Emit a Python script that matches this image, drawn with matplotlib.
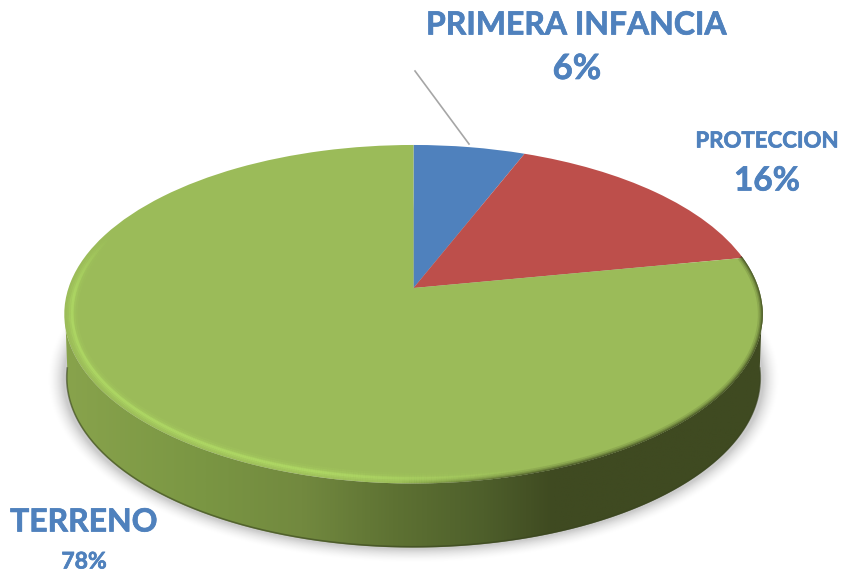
import numpy as np
import matplotlib
matplotlib.use("Agg")
import matplotlib.pyplot as plt
import matplotlib.patheffects as pe
from matplotlib.colors import LinearSegmentedColormap, to_rgb
from matplotlib.collections import LineCollection
from matplotlib.patches import Polygon
from matplotlib.transforms import Transform

labels = ["PRIMERA INFANCIA", "PROTECCION", "TERRENO"]
values = [6, 16, 78]
colors = ["#4F81BD", "#BD4F4B", "#9BBB59"]

CX, CY, A, B, K = 413.5, 288.0, 345.0, 165.2, 0.155
DEPTH = 64.0
TXT = "#4F81BD"


class Persp(Transform):
    input_dims = output_dims = 2
    is_affine = False
    has_inverse = False

    def transform_non_affine(self, xy):
        xy = np.asarray(xy, float)
        w = 1 + K * xy[:, 1]
        return np.column_stack([CX + A * xy[:, 0] / w, CY - B * xy[:, 1] / w])


def rim(t, r=1.0):
    return Persp().transform_non_affine(np.column_stack([r * np.cos(t), r * np.sin(t)]))


def lower(p):
    return np.column_stack([CX + (p[:, 0] - CX) * 0.993, p[:, 1] + DEPTH])


plt.rcParams["font.family"] = ["Lato", "DejaVu Sans"]
fig = plt.figure(figsize=(8.44, 5.73), dpi=100)
ax = fig.add_axes([0, 0, 1, 1])

t = np.linspace(0, 2 * np.pi, 721)
top = rim(t)
lowt = np.linspace(np.pi + 0.1, 2 * np.pi - 0.1, 400)
front = rim(lowt)

# soft shadow under the disc
for grow, alpha in zip(np.linspace(16, 1, 16), np.linspace(0.004, 0.022, 16)):
    mx, my = CX, CY + 29
    s = np.column_stack([mx + (top[:, 0] - mx) * (1 + grow / 350),
                         my + (top[:, 1] - my) * (1 + grow / 195) + DEPTH + 1])
    ax.add_patch(Polygon(s, closed=True, fc="black", ec="none", alpha=alpha, zorder=1))

# side wall with horizontal gradient
wall = np.vstack([front, lower(front)[::-1]])
poly = Polygon(wall, closed=True, fc="none", ec="none", transform=ax.transData)
ax.add_patch(poly)
stops = [(0.00, "#88A34C"), (0.20, "#7A9643"), (0.34, "#72893F"), (0.47, "#5E7233"),
         (0.60, "#4E5F2B"), (0.70, "#3F4A21"), (1.00, "#3F4A21")]
cmap = LinearSegmentedColormap.from_list("wall", stops)
im = ax.imshow(np.linspace(0, 1, 512)[None, :], cmap=cmap, extent=[65, 763, 560, 300],
               aspect="auto", zorder=2, interpolation="bilinear")
im.set_clip_path(poly)

# dark seam along the lower wall edge
seam = lower(front)
ax.plot(seam[:, 0], seam[:, 1] - 0.7, color="#3A4520", lw=1.2, alpha=0.6, zorder=2.5)

# pie top
ax.pie(values, colors=colors, startangle=90, counterclock=False, frame=True,
       wedgeprops=dict(transform=Persp() + ax.transData, lw=0, zorder=3))

# bevel inside the front edge
clip = Polygon(top, closed=True, fc="none", ec="none", transform=ax.transData)
ax.add_patch(clip)
bevt = np.linspace(np.pi - 0.35, 2 * np.pi + 0.2, 600)
tm = 0.5 * (bevt[:-1] + bevt[1:])


def segments(r):
    p = rim(bevt, r)
    return np.stack([p[:-1], p[1:]], axis=1)


xm = segments(1.0)[:, :, 0].mean(axis=1)
left_fade = np.clip((tm - (np.pi - 0.35)) / 0.4, 0, 1)
bright_amt = np.clip((540 - xm) / 220, 0, 1) * left_fade
dark_amt = np.clip((xm - 400) / 160, 0, 1)
brightc = np.array(to_rgb("#B4E068"))
darkc = np.array(to_rgb("#3F4A21"))

for lw, strength, r in [(9, 0.10), (6, 0.18), (3.5, 0.32), (1.8, 0.5)] and \
        [(9, 0.10, 0.98), (6, 0.18, 0.98), (3.5, 0.32, 0.98), (1.8, 0.5, 0.978)]:
    cols = np.column_stack([np.tile(brightc, (len(xm), 1)), strength * bright_amt])
    lc = LineCollection(segments(r), colors=cols, linewidths=lw, zorder=4, capstyle="butt")
    ax.add_collection(lc)
    lc.set_clip_path(clip)

for lw, strength in [(7, 0.15), (4.5, 0.25), (2.6, 0.4), (1.2, 0.6)]:
    cols = np.column_stack([np.tile(darkc, (len(xm), 1)), strength * dark_amt])
    lc = LineCollection(segments(1.0), colors=cols, linewidths=lw, zorder=4.5, capstyle="butt")
    ax.add_collection(lc)
    lc.set_clip_path(clip)

# leader line
ax.plot([415, 469], [71, 144], color="#A6A6A6", lw=1.2, zorder=5)

# labels
heavy = [pe.withStroke(linewidth=0.5, foreground=TXT)]


def label(x, y, s, size):
    ax.text(x, y, s, color=TXT, fontsize=size, fontweight="bold", ha="center", va="center",
            path_effects=heavy, zorder=6)


label(577, 25, labels[0], 23)
label(577, 69, f"{values[0]}%", 25)
label(767, 141, labels[1], 16)
label(767, 181, f"{values[1]}%", 24)
label(84, 522, labels[2], 23)
label(84, 562, f"{values[2]}%", 16.5)

ax.set_aspect("auto")
ax.set_xlim(0, 844)
ax.set_ylim(573, 0)
ax.axis("off")
fig.savefig("out.png", dpi=100, facecolor="white")
